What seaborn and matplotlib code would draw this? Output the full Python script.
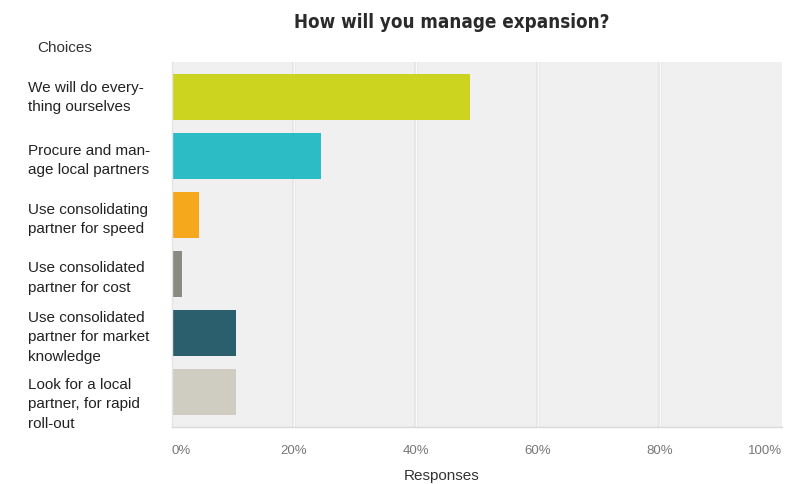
import matplotlib
matplotlib.use("Agg")
import matplotlib.pyplot as plt
import matplotlib.transforms as mtransforms
import seaborn as sns
import pandas as pd

# Survey answers and share of responses (%)
choices = [
    "We will do every-\nthing ourselves",
    "Procure and man-\nage local partners",
    "Use consolidating\npartner for speed",
    "Use consolidated\npartner for cost",
    "Use consolidated\npartner for market\nknowledge",
    "Look for a local\npartner, for rapid\nroll-out",
]
responses = [48.9, 24.4, 4.4, 1.7, 10.5, 10.5]
bar_colors = ["#cdd41f", "#2bbcc6", "#f5a81c", "#8a8a80", "#2c5f6e", "#cfcdc2"]
x_ticks = [0, 20, 40, 60, 80, 100]
x_tick_labels = ["0%", "20%", "40%", "60%", "80%", "100%"]

df = pd.DataFrame({"choice": choices, "pct": responses})

sns.set_theme(style="white")
plt.rcParams["font.family"] = ["Liberation Sans", "DejaVu Sans"]

fig = plt.figure(figsize=(7.86, 4.84), dpi=100)
ax = fig.add_axes([172 / 786, 1 - 427 / 484, 610 / 786, 365 / 484])
ax.set_facecolor("#f0f0f0")

# soft vertical grid bands
for xv in x_ticks[1:-1]:
    ax.axvline(xv, color="#e5e5e5", lw=3.0, zorder=0)
    ax.axvline(xv, color="#fbfbfb", lw=1.0, zorder=0)

sns.barplot(data=df, x="pct", y="choice", hue="choice", palette=bar_colors,
            legend=False, width=0.78, saturation=1, edgecolor="none",
            ax=ax, zorder=2)

ax.set_xlim(0, 100)
ax.set_ylim(5.6, -0.6)
ax.set_xlabel("")
ax.set_ylabel("")

ax.set_xticks(x_ticks)
ax.set_xticklabels(x_tick_labels)
ax.tick_params(axis="x", length=0, pad=13, labelsize=9.5, labelcolor="#777777")
xl = ax.get_xticklabels()
xl[0].set_ha("left")
xl[-1].set_ha("right")

ax.tick_params(axis="y", length=0, pad=104, labelsize=11, labelcolor="#222222")
# small vertical nudges (points) for the first and last answer labels
nudges = {0: 3, 5: -6}
for i, lab in enumerate(ax.get_yticklabels()):
    lab.set_ha("left")
    lab.set_linespacing(1.5)
    if i in nudges:
        off = mtransforms.ScaledTranslation(0, nudges[i] / 72, fig.dpi_scale_trans)
        lab.set_transform(lab.get_transform() + off)

for side in ["top", "right"]:
    ax.spines[side].set_visible(False)
ax.spines["left"].set_color("#e4e4e4")
ax.spines["left"].set_linewidth(1.0)
ax.spines["bottom"].set_color("#d8d8d8")
ax.spines["bottom"].set_linewidth(1.0)

fig.text(452 / 786, 1 - 22 / 484, "How will you manage expansion?",
         ha="center", va="center", fontsize=13.5, fontweight="bold",
         color="#2a2a2a", family=["DejaVu Sans"], fontstretch="condensed")
fig.text(37 / 786, 1 - 48 / 484, "Choices", ha="left", va="center",
         fontsize=11, color="#333333")
fig.text(442 / 786, 1 - 476 / 484, "Responses", ha="center", va="center",
         fontsize=11, color="#333333")

fig.savefig("out.png", dpi=100, facecolor="white")
